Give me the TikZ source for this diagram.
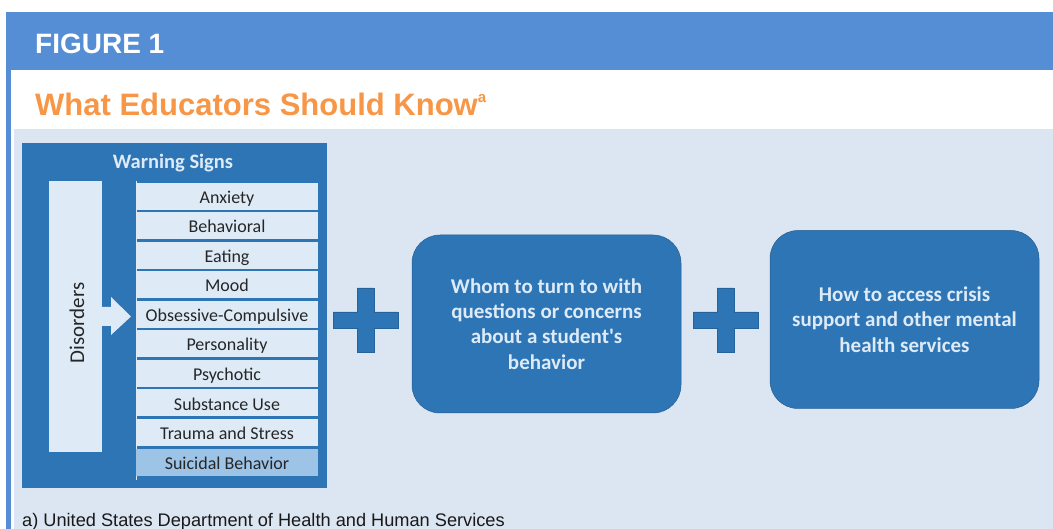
\documentclass[tikz,border=0pt]{standalone}
\usepackage{fontspec}
\setmainfont{Carlito}
\newfontfamily\arialfont{Liberation Sans}
\usetikzlibrary{positioning}

\definecolor{hdrblue}{HTML}{558ED5}
\definecolor{panelbg}{HTML}{DCE6F2}
\definecolor{darkblue}{HTML}{2E75B6}
\definecolor{lightcell}{HTML}{DEEBF7}
\definecolor{midcell}{HTML}{9DC3E6}
\definecolor{titleorange}{HTML}{F79646}

\tikzset{
  cell/.style={fill=lightcell, minimum width=182pt, minimum height=27pt, inner sep=0pt,
    text=black!85, font=\fontsize{18}{20}\selectfont, text height=14pt, text depth=0pt},
  infobox/.style={fill=darkblue, draw=darkblue!80!black, line width=.5pt, rounded corners=28pt,
    minimum width=269pt, minimum height=178pt, align=center, text=lightcell,
    font=\bfseries\fontsize{21}{25.3}\selectfont},
  plusfill/.style={fill=darkblue, draw=darkblue!85!black, line width=.6pt}
}

\begin{document}
\begin{tikzpicture}[x=1pt,y=-1pt]
  \useasboundingbox (0,0) rectangle (1053,529);
  \fill[white] (0,0) rectangle (1053,529);
  % header and frame
  \fill[hdrblue] (6,12) rectangle (1053,70);
  \fill[hdrblue] (6,12) rectangle (11,529);
  \fill[panelbg] (14,129) rectangle (1053,529);
  \node[anchor=base west, inner sep=0, text=white, font=\arialfont\bfseries\fontsize{28}{30}\selectfont] (fig) at (35,54) {FIGURE 1};
  \node[anchor=base west, inner sep=0, text=titleorange, font=\arialfont\bfseries\fontsize{31}{34}\selectfont] (title) at (35,116) {What Educators Should Know\raisebox{13pt}{\fontsize{15}{16}\selectfont a}};

  % warning signs panel
  \fill[darkblue] (22,143) rectangle (327,488);
  \node[text=lightcell, font=\bfseries\fontsize{20.5}{22}\selectfont] (warn) at (173,163) {Warning Signs};
  \node[fill=lightcell, minimum width=53pt, minimum height=271pt, inner sep=0] (dis) at (75.5,316.5) {};
  \node[rotate=90, text=black!85, font=\fontsize{21}{22}\selectfont] (distext) at (77,323) {Disorders};
  \fill[lightcell] (102,307) -- (111,307) -- (111,297) -- (131,316.5) -- (111,335) -- (111,326) -- (102,326) -- cycle;
  \draw[lightcell, line width=.8pt] (136,181) -- (136,480);
  \foreach \t [count=\i from 0] in {Anxiety, Behavioral, Eating, Mood, Obsessive-Compulsive, Personality, Psychotic, Substance Use, Trauma and Stress}
    \node[cell] (ws\i) at (227,196.5+29.5*\i) {\t};
  \node[cell, fill=midcell] (ws9) at (227,462) {Suicidal Behavior};

  % plus signs
  \foreach \cx in {365.5,725.5}
    \draw[plusfill] (\cx-32.5,312) -- (\cx-8.5,312) -- (\cx-8.5,288) -- (\cx+8.5,288) -- (\cx+8.5,312) -- (\cx+32.5,312)
      -- (\cx+32.5,328) -- (\cx+8.5,328) -- (\cx+8.5,352) -- (\cx-8.5,352) -- (\cx-8.5,328) -- (\cx-32.5,328) -- cycle;

  \node[infobox] (whom) at (546.5,324) {Whom to turn to with\\questions or concerns\\about a student{\textquotesingle}s\\behavior};
  \node[infobox] (crisis) at (904.5,319.5) {How to access crisis\\support and other mental\\health services};

  \node[anchor=base west, inner sep=0, text=black!90, font=\arialfont\fontsize{18.2}{20}\selectfont] (note) at (22,526) {a) United States Department of Health and Human Services};
\end{tikzpicture}
\end{document}
